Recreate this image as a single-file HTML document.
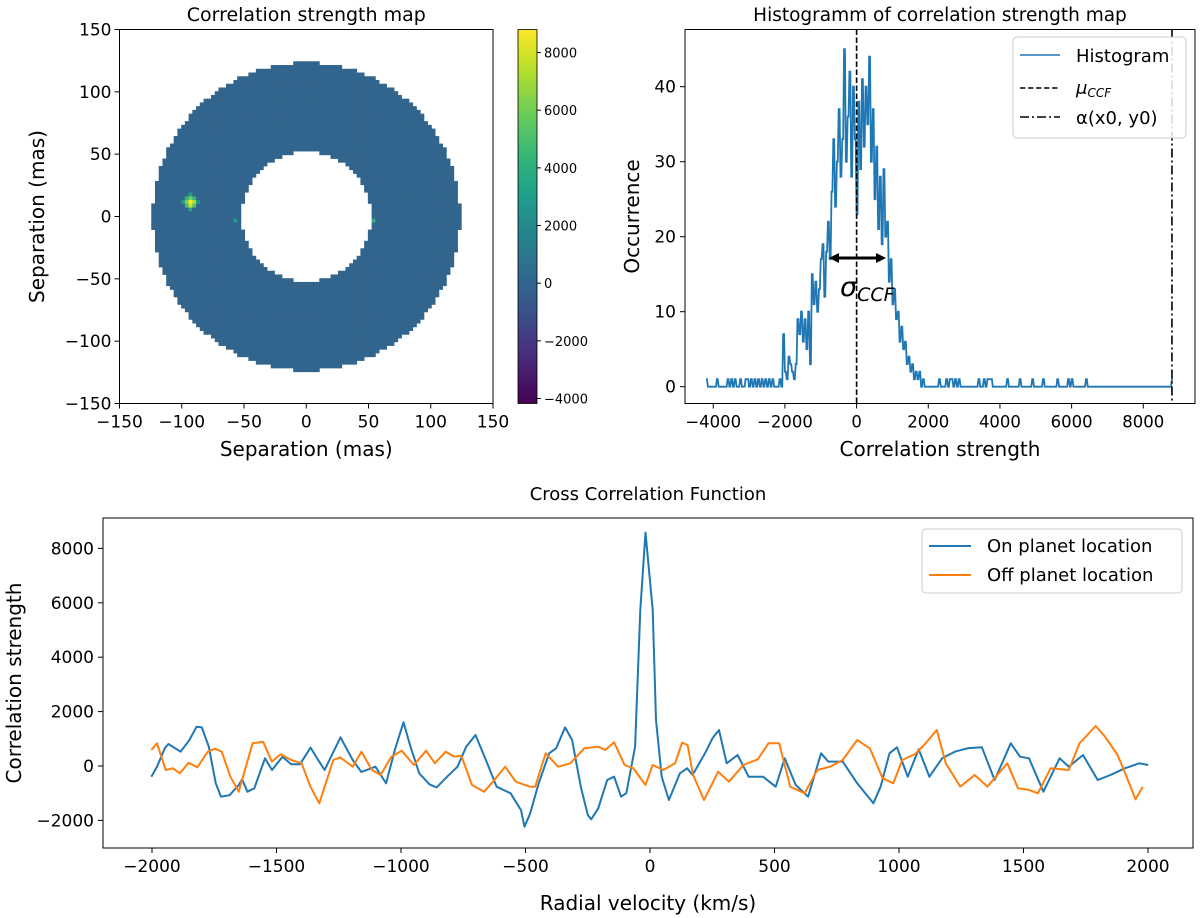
<!DOCTYPE html>
<html><head><meta charset="utf-8">
<style>
html,body{margin:0;padding:0;background:#fff;}
svg{display:block;font-family:"DejaVu Sans","Liberation Sans",sans-serif;}
</style></head>
<body>
<svg id="fig" width="1200" height="918" viewBox="0 0 1200 918" xmlns="http://www.w3.org/2000/svg">
<g id="map"></g>
<g id="hist"></g>
<g id="ccf"></g>
</svg>
<script>
// ---------- data ----------
const mapTicks = [-150,-100,-50,0,50,100,150];
const cbarTicks = [8000,6000,4000,2000,0,-2000,-4000];
const mapBaseValue = 0;
const ringInner = 52;
const ringOuter = 123.5;
const planetCellsX = [-93,-90,-96,-93,-93,-90,-96,-90,-96,-99,-87,-93,-93,53,-57];
const planetCellsY = [12,12,12,9,15,9,9,15,15,12,12,18,6,-3,-3];
const planetCellsV = [8800,7200,6200,7800,6000,5200,4800,4500,4300,3000,3000,3200,3200,4200,3000];

const histBinStart = -2200;
const histBinWidth = 50;
const histCounts = [0,1,0,7,2,1,4,3,2,1,3,9,7,10,6,9,5,10,3,15,11,14,10,13,17,19,12,18,22,17,26,33,24,30,37,28,33,45,30,36,42,28,40,33,23,38,29,41,32,40,35,44,30,37,25,32,21,28,19,29,20,22,14,17,11,13,9,10,6,8,5,6,3,4,2,3,1,2,1,2,0,1,0];
const histSingles = [-4200,-3900,-3600,-3480,-3400,-3250,-3100,-3050,-2950,-2850,-2750,-2650,-2550,-2450,-2350,2300,2500,2600,2650,2750,2850,3400,3550,3650,3700,3750,4200,4550,4900,5200,5600,5900,6000,6400,8800];
const histXTicks = [-4000,-2000,0,2000,4000,6000,8000];
const histYTicks = [0,10,20,30,40];
const muCCF = 0;
const alphaVal = 8800;

const ccfXTicks = [-2000,-1500,-1000,-500,0,500,1000,1500,2000];
const ccfYTicks = [-2000,0,2000,4000,6000,8000];
const onX = [-2003,-1980,-1948,-1934,-1885,-1850,-1821,-1800,-1772,-1744,-1723,-1688,-1652,-1638,-1617,-1589,-1546,-1518,-1476,-1441,-1406,-1363,-1335,-1307,-1243,-1194,-1159,-1103,-1060,-1025,-990,-962,-927,-885,-857,-815,-773,-738,-701,-659,-616,-560,-518,-504,-482,-447,-405,-377,-341,-313,-278,-250,-236,-208,-172,-144,-116,-95,-60,-39,-18,11,24,47,76,120,149,171,221,251,277,308,352,396,454,505,541,585,635,687,716,774,832,897,926,962,992,1035,1079,1122,1173,1224,1275,1333,1384,1449,1486,1522,1580,1645,1682,1739,1798,1849,1907,1965,2001];
const onY = [-392,-25,660,810,527,955,1445,1420,710,-628,-1128,-1070,-700,-490,-944,-820,282,-147,343,63,63,675,254,-147,1055,220,-220,-25,-637,588,1606,710,-270,-675,-785,-392,-25,710,1140,220,-760,-1005,-1620,-2230,-1760,-637,466,650,1420,955,-760,-1800,-1960,-1560,-515,-392,-1128,-1000,710,5735,8580,5735,1690,-392,-1250,-270,-85,-330,466,1018,1323,98,405,-392,-392,-760,282,-700,-1128,466,160,160,-637,-1372,-760,466,687,-392,613,-392,282,527,650,687,-515,833,343,282,-944,282,-25,405,-515,-330,-85,98,36];
const offX = [-2003,-1980,-1945,-1916,-1888,-1853,-1818,-1776,-1748,-1720,-1685,-1652,-1596,-1554,-1519,-1483,-1441,-1399,-1364,-1328,-1272,-1244,-1194,-1159,-1117,-1082,-1039,-997,-948,-899,-864,-821,-786,-758,-715,-666,-631,-582,-539,-482,-461,-419,-369,-320,-264,-208,-180,-144,-102,-67,-18,11,53,101,129,151,173,217,274,317,375,433,476,519,563,621,672,723,774,832,883,934,977,1013,1065,1101,1152,1188,1246,1304,1355,1435,1478,1522,1558,1609,1682,1725,1790,1827,1878,1914,1950,1979];
const offY = [588,833,-147,-85,-270,123,-50,527,637,527,-392,-944,833,894,160,429,220,98,-760,-1372,220,318,-25,527,-147,-330,343,564,37,564,98,527,345,380,-700,-944,-576,-25,-576,-760,-760,466,-25,98,650,710,588,870,37,-85,-700,37,-147,98,858,772,-330,-1250,-208,-576,37,245,833,833,-760,-1005,-147,-25,220,955,648,-453,-637,220,441,772,1323,98,-760,-330,-760,98,-820,-880,-1005,-85,-147,833,1470,1085,405,-392,-1225,-760];

// ---------- helpers ----------
const NS = "http://www.w3.org/2000/svg";
function el(tag, attrs, parent, text){
  const e = document.createElementNS(NS, tag);
  for (const k in attrs) e.setAttribute(k, attrs[k]);
  if (text !== undefined) e.textContent = text;
  parent.appendChild(e); return e;
}
const VIR = [[68,1,84],[72,40,120],[62,74,137],[49,104,142],[38,130,142],[31,158,137],[53,183,121],[109,205,89],[180,222,44],[253,231,37]];
function viridis(t){
  t = Math.max(0, Math.min(1, t)); const f = t*(VIR.length-1); const i = Math.min(VIR.length-2, Math.floor(f)); const r = f-i;
  const c = VIR[i].map((v,k)=>Math.round(v+(VIR[i+1][k]-v)*r));
  return `rgb(${c[0]},${c[1]},${c[2]})`;
}
function fmt(v){ return v<0 ? "\u2212"+Math.abs(v) : String(v); }

// ---------- panel 1: map ----------
(function(){
  const g = document.getElementById('map');
  const L=119.5, R=493, T=29.5, B=403.5;
  const sx = v => L + (v+150)/300*(R-L);
  const sy = v => B - (v+150)/300*(B-T);
  const vmin=-4174, vmax=8800;
  const cs = 3;
  const cellG = el('g', {}, g);
  
  
  for (let cx=-123; cx<=123; cx+=cs){
    for (let cy=-123; cy<=123; cy+=cs){
      const r = Math.hypot(cx, cy);
      if (r < ringInner || r > ringOuter) continue;
      let v = mapBaseValue;
      for (let k=0;k<planetCellsX.length;k++) if (Math.abs(planetCellsX[k]-cx)<1.6 && Math.abs(planetCellsY[k]-cy)<1.6) v = planetCellsV[k];
      const x0 = sx(cx-cs/2), y0 = sy(cy+cs/2);
      el('rect', {x:x0.toFixed(2), y:y0.toFixed(2), width:(sx(cx+cs/2)-x0+0.4).toFixed(2), height:(sy(cy-cs/2)-y0+0.4).toFixed(2), fill:viridis((v-vmin)/(vmax-vmin))}, cellG);
    }
  }
  el('rect',{x:L,y:T,width:R-L,height:B-T,fill:'none',stroke:'#000','stroke-width':1},g);
  mapTicks.forEach(t=>{
    el('line',{x1:sx(t),x2:sx(t),y1:B,y2:B+5,stroke:'#000'},g);
    const tx = el('text',{x:sx(t),y:B+24,'text-anchor':'middle','font-size':17},g,fmt(t));
     
    el('line',{x1:L-5,x2:L,y1:sy(t),y2:sy(t),stroke:'#000'},g);
    const ty = el('text',{x:L-8,y:sy(t)+6,'text-anchor':'end','font-size':17},g,fmt(t));
     
  });
  const tt = el('text',{x:(L+R)/2,y:21,'text-anchor':'middle','font-size':19},g,'Correlation strength map');
   
  const xl = el('text',{x:(L+R)/2,y:456,'text-anchor':'middle','font-size':20},g,'Separation (mas)');
   
  const yl = el('text',{x:0,y:0,'text-anchor':'middle','font-size':20,transform:`translate(44,${(T+B)/2}) rotate(-90)`},g,'Separation (mas)');
   
  // colorbar
  const cL=518, cR=537;
  const cy = v => B - (v-vmin)/(vmax-vmin)*(B-T);
  const defs = el('defs',{},g);
  const grad = el('linearGradient',{id:'vir',x1:0,y1:1,x2:0,y2:0},defs);
  for (let i=0;i<=20;i++) el('stop',{offset:i/20,'stop-color':viridis(i/20)},grad);
  const cb = el('rect',{x:cL,y:T,width:cR-cL,height:B-T,fill:'url(#vir)',stroke:'#000','stroke-width':0.8},g);
   
  cbarTicks.forEach(t=>{
    el('line',{x1:cR,x2:cR+4,y1:cy(t),y2:cy(t),stroke:'#000'},g);
    const l = el('text',{x:cR+7,y:cy(t)+5,'font-size':13},g,fmt(t));
     
  });
})();

// ---------- panel 2: histogram ----------
(function(){
  const g = document.getElementById('hist');
  const L=685, R=1195, T=29.5, B=403.5;
  const sx = v => 856.6 + v*(71.67/2000);
  const sy = v => 386.7 - v*7.5;
  const counts = new Map();
  for (let i=0;i<histCounts.length;i++) counts.set(histBinStart+i*histBinWidth, histCounts[i]);
  histSingles.forEach(s=>{ const k = Math.round(s/histBinWidth)*histBinWidth; counts.set(k, Math.max(1, counts.get(k)||0)); });
  let d = '';
  const start=-4200, end=8800;
  let first=true;
  for (let v=start; v<=end; v+=histBinWidth){
    const c = counts.get(v)||0;
    const x0 = sx(v), x1 = sx(v+histBinWidth*0.5);
    d += (first?'M':'L')+x0.toFixed(2)+','+sy(c).toFixed(2)+' L'+x1.toFixed(2)+','+sy(c).toFixed(2)+' ';
    first=false;
  }
  const hp = el('path',{d:d,fill:'none',stroke:'#1f77b4','stroke-width':1.8,'stroke-linejoin':'miter'},g);
   
  const mu = el('line',{x1:sx(muCCF),x2:sx(muCCF),y1:T,y2:B,stroke:'#000','stroke-width':1.6,'stroke-dasharray':'5.5,2.5'},g);
   
  const al = el('line',{x1:sx(alphaVal),x2:sx(alphaVal),y1:T,y2:B,stroke:'#000','stroke-width':1.6,'stroke-dasharray':'9,3,2,3'},g);
   
  const ay = 258, ax1 = 829, ax2 = 886;
  const ar = el('g',{},g);  
  el('line',{x1:ax1+6,x2:ax2-6,y1:ay,y2:ay,stroke:'#000','stroke-width':3},ar);
  el('path',{d:`M${ax1},${ay} L${ax1+10},${ay-5} L${ax1+10},${ay+5}Z`,fill:'#000'},ar);
  el('path',{d:`M${ax2},${ay} L${ax2-10},${ay-5} L${ax2-10},${ay+5}Z`,fill:'#000'},ar);
  const st = el('text',{x:840,y:296,'font-size':27,'font-style':'italic'},g);
   
  st.textContent='σ';
  el('tspan',{'font-size':19,dy:5},st,'CCF');
  el('rect',{x:L,y:T,width:R-L,height:B-T,fill:'none',stroke:'#000','stroke-width':1},g);
  histXTicks.forEach(t=>{
    el('line',{x1:sx(t),x2:sx(t),y1:B,y2:B+5,stroke:'#000'},g);
    const l = el('text',{x:sx(t),y:B+24,'text-anchor':'middle','font-size':16.5},g,fmt(t));
     
  });
  histYTicks.forEach(t=>{
    el('line',{x1:L-5,x2:L,y1:sy(t),y2:sy(t),stroke:'#000'},g);
    const l = el('text',{x:L-9,y:sy(t)+6,'text-anchor':'end','font-size':17},g,fmt(t));
     
  });
  const tt = el('text',{x:(L+R)/2,y:21,'text-anchor':'middle','font-size':18.5},g,'Histogramm of correlation strength map');
   
  const xl = el('text',{x:(L+R)/2,y:456,'text-anchor':'middle','font-size':20},g,'Correlation strength');
   
  const yl = el('text',{x:0,y:0,'text-anchor':'middle','font-size':20,transform:`translate(639,${(T+B)/2}) rotate(-90)`},g,'Occurrence');
   
  const lg = el('g',{},g);  
  el('rect',{x:1013,y:37,width:173,height:101,rx:4,fill:'#fff','fill-opacity':0.85,stroke:'#ccc'},lg);
  el('line',{x1:1020,x2:1060,y1:55,y2:55,stroke:'#1f77b4','stroke-width':1.6},lg);
  el('text',{x:1076,y:62,'font-size':18},lg,'Histogram');
  el('line',{x1:1020,x2:1060,y1:88,y2:88,stroke:'#000','stroke-width':1.6,'stroke-dasharray':'5.5,2.5'},lg);
  const m = el('text',{x:1076,y:94,'font-size':18,'font-style':'italic'},lg,'μ');
  el('tspan',{'font-size':12,dy:3},m,'CCF');
  el('line',{x1:1020,x2:1060,y1:117,y2:117,stroke:'#000','stroke-width':1.6,'stroke-dasharray':'9,3,2,3'},lg);
  el('text',{x:1076,y:124,'font-size':18},lg,'α(x0, y0)');
})();

// ---------- panel 3: CCF ----------
(function(){
  const g = document.getElementById('ccf');
  const L=103, R=1193, T=518, B=848;
  const sx = v => 650 + v*0.249;
  const sy = v => 766 - v*0.0272;
  el('rect',{x:L,y:T,width:R-L,height:B-T,fill:'none',stroke:'#000','stroke-width':1},g);
  const pts = (xs,ys)=>xs.map((x,i)=>sx(x).toFixed(1)+','+sy(ys[i]).toFixed(1)).join(' ');
  const on = el('polyline',{points:pts(onX,onY),fill:'none',stroke:'#1f77b4','stroke-width':2,'stroke-linejoin':'round'},g);
   
  const off = el('polyline',{points:pts(offX,offY),fill:'none',stroke:'#ff7f0e','stroke-width':2,'stroke-linejoin':'round'},g);
   
  ccfXTicks.forEach(t=>{
    el('line',{x1:sx(t),x2:sx(t),y1:B,y2:B+5,stroke:'#000'},g);
    const l = el('text',{x:sx(t),y:B+24,'text-anchor':'middle','font-size':17},g,fmt(t));
     
  });
  ccfYTicks.forEach(t=>{
    el('line',{x1:L-5,x2:L,y1:sy(t),y2:sy(t),stroke:'#000'},g);
    const l = el('text',{x:L-9,y:sy(t)+6,'text-anchor':'end','font-size':17},g,fmt(t));
     
  });
  const tt = el('text',{x:648,y:500,'text-anchor':'middle','font-size':18},g,'Cross Correlation Function');
   
  const xl = el('text',{x:648,y:910,'text-anchor':'middle','font-size':20},g,'Radial velocity (km/s)');
   
  const yl = el('text',{x:0,y:0,'text-anchor':'middle','font-size':20,transform:`translate(21,${(T+B)/2}) rotate(-90)`},g,'Correlation strength');
   
  const lg = el('g',{},g);  
  el('rect',{x:922,y:529,width:260,height:64,rx:4,fill:'#fff','fill-opacity':0.85,stroke:'#ccc'},lg);
  el('line',{x1:929,x2:971,y1:546,y2:546,stroke:'#1f77b4','stroke-width':2},lg);
  el('text',{x:987,y:552,'font-size':18},lg,'On planet location');
  el('line',{x1:929,x2:971,y1:575,y2:575,stroke:'#ff7f0e','stroke-width':2},lg);
  el('text',{x:987,y:581,'font-size':18},lg,'Off planet location');
})();
</script>
</body></html>
